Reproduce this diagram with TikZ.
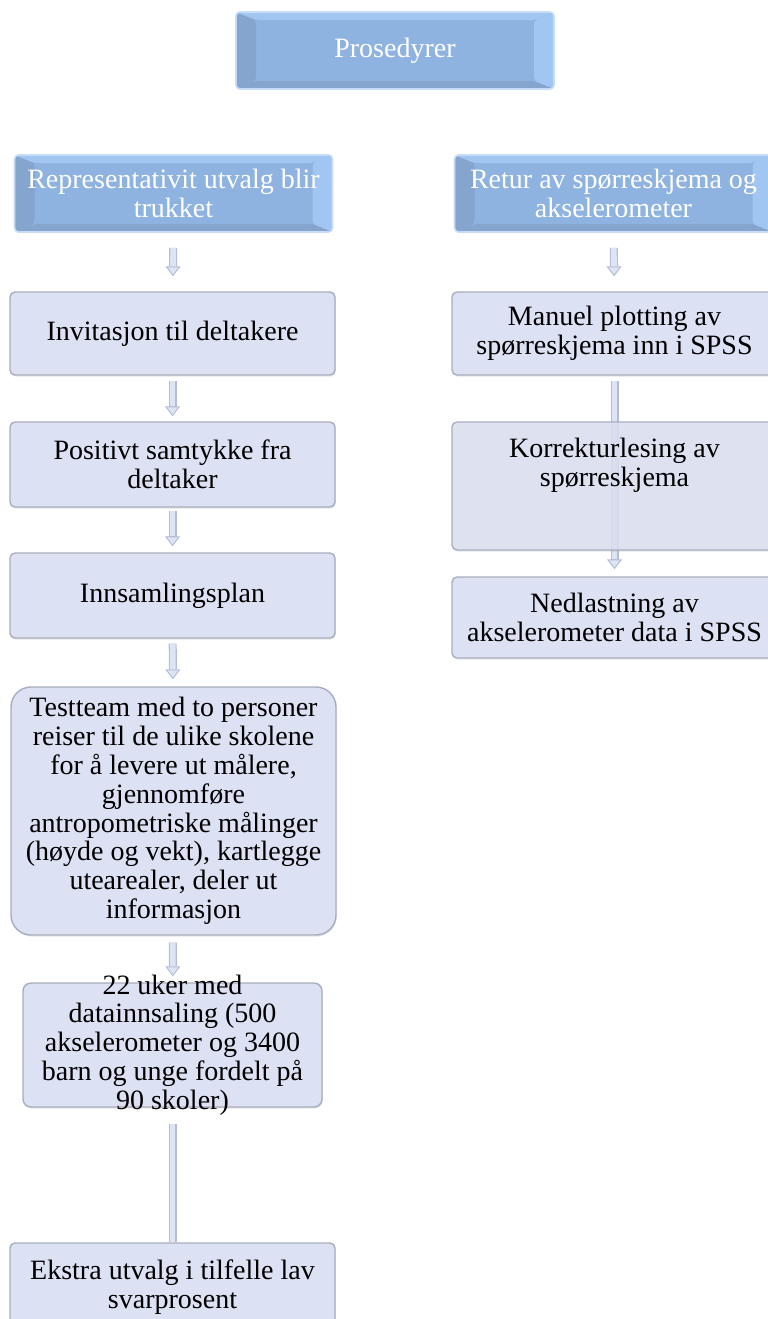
\documentclass[tikz,border=0pt]{standalone}
\usepackage{fontspec}
\setmainfont{Liberation Serif}
\usetikzlibrary{arrows.meta,shadows}
\definecolor{boksfyll}{HTML}{DCE1F3}
\definecolor{bokskant}{HTML}{A7AEBE}
\definecolor{hodemidt}{HTML}{8FB3E0}
\definecolor{hodelys}{HTML}{A1C6F1}
\definecolor{hodemork}{HTML}{85A5CF}
\definecolor{pilfyll}{HTML}{DDE4F3}
\definecolor{pilkant}{HTML}{B3BED6}
\begin{document}
\begin{tikzpicture}[x=0.5pt,y=-0.5pt,font=\fontsize{14}{14.4}\selectfont,
    boks/.style={draw=bokskant,line width=0.7pt,fill=boksfyll,rounded corners=2.5pt,
        align=center,inner sep=0pt,minimum width=162.5pt,
        drop shadow={shadow xshift=0.4pt,shadow yshift=-0.8pt,opacity=0.2}},
    hode/.style={draw=hodelys!60!white,line width=0.8pt,fill=hodemidt,rounded corners=2pt,
        text=white,align=center,inner sep=0pt,minimum width=159pt,minimum height=38.5pt,
        path picture={
            \fill[hodemork] (path picture bounding box.south west) -- (path picture bounding box.north west)
                -- ([shift={(10pt,-4pt)}]path picture bounding box.north west) -- ([shift={(10pt,4pt)}]path picture bounding box.south west) -- cycle;
            \fill[hodelys] (path picture bounding box.north west) -- (path picture bounding box.north east)
                -- ([shift={(-10pt,-4pt)}]path picture bounding box.north east) -- ([shift={(10pt,-4pt)}]path picture bounding box.north west) -- cycle;
            \fill[hodelys] (path picture bounding box.north east) -- (path picture bounding box.south east)
                -- ([shift={(-10pt,4pt)}]path picture bounding box.south east) -- ([shift={(-10pt,-4pt)}]path picture bounding box.north east) -- cycle;
            \fill[hodemork] (path picture bounding box.south east) -- (path picture bounding box.south west)
                -- ([shift={(10pt,4pt)}]path picture bounding box.south west) -- ([shift={(-10pt,4pt)}]path picture bounding box.south east) -- cycle;
        }},
    pil/.style={draw=pilkant,line width=4pt,-{Triangle[length=5pt,width=7.5pt,fill=pilfyll,line width=0.5pt]},
        shorten >=#1,postaction={draw=pilfyll,line width=2.8pt,-{},shorten >=#1+5pt}},
    pil/.default=2.5pt,
    stamme/.style={draw=pilkant,line width=4pt,postaction={draw=pilfyll,line width=2.8pt}}]

    \useasboundingbox (0,0) rectangle (767,1319);

    \node[hode] (prosedyrer) at (395,50.5) {Prosedyrer};

    % venstre kolonne
    \node[hode] (utvalg) at (173.5,193.5) {Representativit utvalg blir\\trukket};
    \node[boks,minimum height=41.5pt] (invitasjon) at (172.5,333.5) {Invitasjon til deltakere};
    \node[boks,minimum height=42.5pt] (samtykke) at (172.5,464.5) {Positivt samtykke fra\\deltaker};
    \node[boks,minimum height=42.5pt] (plan) at (172.5,595.5) {Innsamlingsplan};
    \node[boks,minimum height=124pt,rounded corners=10pt] (testteam) at (173.5,811)
        {Testteam med to personer\\reiser til de ulike skolene\\for å levere ut målere,\\gjennomføre\\antropometriske målinger\\(høyde og vekt), kartlegge\\utearealer, deler ut\\informasjon};
    \node[boks,minimum width=149.5pt,minimum height=62pt,rounded corners=4pt,
        label={[align=center]center:{22 uker med\\datainnsaling (500\\akselerometer og 3400\\barn og unge fordelt på\\90 skoler)}}] (uker) at (172.5,1045) {};
    \node[boks,minimum height=44pt] (ekstra) at (172.5,1287) {Ekstra utvalg i tilfelle lav\\svarprosent};

    \draw[pil=7.5pt,shorten <=7.5pt] (utvalg) -- (invitasjon);
    \draw[pil,shorten <=2.5pt] (invitasjon) -- (samtykke);
    \draw[pil=3pt,shorten <=1.5pt] (samtykke) -- (plan);
    \draw[pil=3.5pt,shorten <=2.5pt] (plan) -- (testteam);
    \draw[pil=3pt,shorten <=3.5pt] (testteam) -- (uker);
    \draw[stamme,shorten <=8pt] (uker) -- (ekstra);

    % hoyre kolonne
    \node[hode] (retur) at (613.5,193.5) {Retur av spørreskjema og\\akselerometer};
    \node[boks,minimum height=41.5pt] (plotting) at (614.5,333.5) {Manuel plotting av\\spørreskjema inn i SPSS};
    \node[boks,minimum height=40.5pt] (nedlast) at (614.5,617.5) {Nedlastning av\\akselerometer data i SPSS};

    \draw[pil=7.5pt,shorten <=7.5pt] (retur) -- (plotting);
    \draw[pil=3.5pt,shorten <=2.5pt] (plotting) -- (nedlast);

    \node[boks,minimum height=64pt,fill opacity=0.85,text opacity=1,
        label={[align=center,yshift=10.5pt]center:{Korrekturlesing av\\spørreskjema}}] (korrektur) at (614.5,486) {};
\end{tikzpicture}
\end{document}
